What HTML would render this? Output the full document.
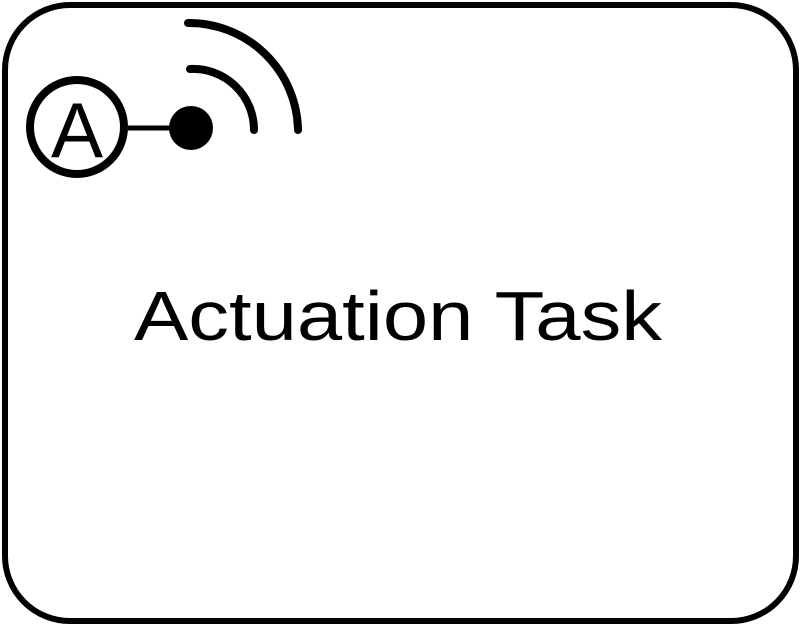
<!DOCTYPE html>
<html><head><style>html,body{margin:0;padding:0;background:#fff;}svg{display:block;}</style></head>
<body>
<svg width="800" height="627" viewBox="0 0 800 627" xmlns="http://www.w3.org/2000/svg">
<rect x="5" y="5" width="791" height="616" rx="65" ry="65" fill="#fff" stroke="#000" stroke-width="6"/>
<circle cx="77" cy="127" r="47" fill="#fff" stroke="#000" stroke-width="8"/>
<text x="77" y="157" text-anchor="middle" font-family="Liberation Sans, sans-serif" font-size="78" fill="#000">A</text>
<line x1="128" y1="128" x2="175" y2="128" stroke="#000" stroke-width="5"/>
<circle cx="191" cy="128" r="22" fill="#000"/>
<path d="M190 69 A61 61 0 0 1 254 130" fill="none" stroke="#000" stroke-width="8" stroke-linecap="round"/>
<path d="M188 23 A109 109 0 0 1 298 130" fill="none" stroke="#000" stroke-width="8" stroke-linecap="round"/>
<text x="398" y="340" text-anchor="middle" font-family="Liberation Sans, sans-serif" font-size="70" textLength="528" lengthAdjust="spacingAndGlyphs" fill="#000">Actuation Task</text>
</svg>
</body></html>
